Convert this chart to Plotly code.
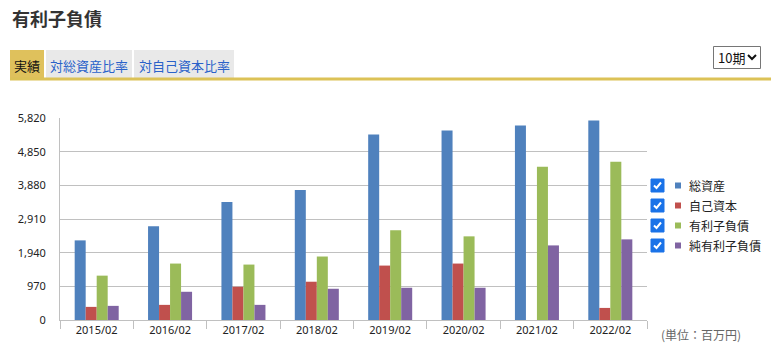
import plotly.graph_objects as go

categories = ["2015/02", "2016/02", "2017/02", "2018/02", "2019/02", "2020/02", "2021/02", "2022/02"]
series_names = ["総資産", "自己資本", "有利子負債", "純有利子負債"]
total_assets = [2294, 2700, 3398, 3746, 5343, 5460, 5605, 5750]
equity = [378, 436, 958, 1103, 1568, 1626, 0, 348]
interest_debt = [1278, 1626, 1597, 1829, 2585, 2410, 4414, 4559]
net_interest_debt = [407, 813, 436, 900, 929, 929, 2149, 2323]
colors = ["#4f81bd", "#c0504d", "#9bbb59", "#8064a2"]
y_ticks = [0, 970, 1940, 2910, 3880, 4850, 5820]
tab_labels = ["実績", "対総資産比率", "対自己資本比率"]
unit_label = "(単位：百万円)"
title_text = "有利子負債"
period_label = "10期"

W, H = 771, 352
L, R, T, B = 60, 647, 118, 320
JP = "Noto Sans CJK JP"


def px(x):
    return (x - L) / (R - L)


def py(y):
    return (B - y) / (B - T)


fig = go.Figure()
for name, vals, c in zip(series_names, [total_assets, equity, interest_debt, net_interest_debt], colors):
    fig.add_trace(go.Bar(x=categories, y=vals, name=name, marker=dict(color=c, line=dict(width=0)),
                         showlegend=False))

shapes = []
annotations = []

# title
annotations.append(dict(x=px(10), y=py(18), xref="paper", yref="paper", text="<b>" + title_text + "</b>",
                        showarrow=False, xanchor="left", yanchor="middle",
                        font=dict(family=JP, size=18, color="#333333")))

# tabs
tabs = [(10, 44, "#dfc15c", "#111111"), (46, 132, "#e9e9e9", "#2a62c9"), (134, 234, "#e9e9e9", "#2a62c9")]
for (x0, x1, bg, fg), lab in zip(tabs, tab_labels):
    shapes.append(dict(type="rect", xref="paper", yref="paper", x0=px(x0), x1=px(x1), y0=py(78), y1=py(50),
                       fillcolor=bg, line=dict(width=0), layer="below"))
    annotations.append(dict(x=px((x0 + x1) / 2), y=py(65), xref="paper", yref="paper", text=lab,
                            showarrow=False, xanchor="center", yanchor="middle",
                            font=dict(family=JP, size=13, color=fg)))
# gold line
shapes.append(dict(type="rect", xref="paper", yref="paper", x0=px(10), x1=px(771), y0=py(80.5), y1=py(77.5),
                   fillcolor="#dcc257", line=dict(width=0)))

# select box
shapes.append(dict(type="rect", xref="paper", yref="paper", x0=px(713.5), x1=px(760.5), y0=py(68.5), y1=py(46.5),
                   fillcolor="white", line=dict(color="#767676", width=1)))
annotations.append(dict(x=px(716), y=py(58), xref="paper", yref="paper", text=period_label,
                        showarrow=False, xanchor="left", yanchor="middle",
                        font=dict(family=JP, size=13, color="#111111")))
shapes.append(dict(type="path", xref="paper", yref="paper",
                   path=f"M{px(748)},{py(55)} L{px(752)},{py(59)} L{px(756)},{py(55)}",
                   line=dict(color="#111111", width=2)))

# legend
for i, (name, c) in enumerate(zip(series_names, colors)):
    cy = 185.5 + 20 * i
    shapes.append(dict(type="rect", xref="paper", yref="paper", x0=px(651), x1=px(664), y0=py(cy + 6.5),
                       y1=py(cy - 6.5), fillcolor="#1a73e8", line=dict(color="#1a73e8", width=1)))
    shapes.append(dict(type="path", xref="paper", yref="paper",
                       path=f"M{px(654)},{py(cy)} L{px(656.5)},{py(cy + 2.5)} L{px(661)},{py(cy - 3)}",
                       line=dict(color="white", width=2)))
    shapes.append(dict(type="rect", xref="paper", yref="paper", x0=px(675), x1=px(681), y0=py(cy + 3),
                       y1=py(cy - 3), fillcolor=c, line=dict(width=0)))
    annotations.append(dict(x=px(687), y=py(cy), xref="paper", yref="paper", text=name,
                            showarrow=False, xanchor="left", yanchor="middle",
                            font=dict(family=JP, size=12, color="#222222")))

# unit label
annotations.append(dict(x=px(659), y=py(334), xref="paper", yref="paper", text=unit_label,
                        showarrow=False, xanchor="left", yanchor="middle",
                        font=dict(family=JP, size=12, color="#666666")))

fig.update_layout(
    width=W, height=H, autosize=False,
    margin=dict(l=L, r=W - R, t=T, b=H - B, pad=0),
    paper_bgcolor="white", plot_bgcolor="white",
    barmode="group", bargap=0.4, bargroupgap=0,
    shapes=shapes, annotations=annotations,
    font=dict(family="Noto Sans", size=11, color="#222222"),
    xaxis=dict(type="category", showgrid=False, showline=True, linecolor="#c0c0c0", linewidth=1,
               ticks="outside", tickson="boundaries", ticklen=8, tickcolor="#c0c0c0",
               tickfont=dict(family="Noto Sans", size=11, color="#222222"), fixedrange=True),
    yaxis=dict(range=[0, 5820], tickvals=y_ticks, ticktext=[f"{v:,}" for v in y_ticks],
               showgrid=True, gridcolor="#c0c0c0", gridwidth=1, zeroline=False,
               showline=True, linecolor="#c0c0c0", linewidth=1,
               ticks="outside", ticklen=11, tickcolor="rgba(0,0,0,0)",
               tickfont=dict(family="Noto Sans", size=11, color="#222222"), fixedrange=True),
)

fig.write_html("out.html", config={"displayModeBar": False})
